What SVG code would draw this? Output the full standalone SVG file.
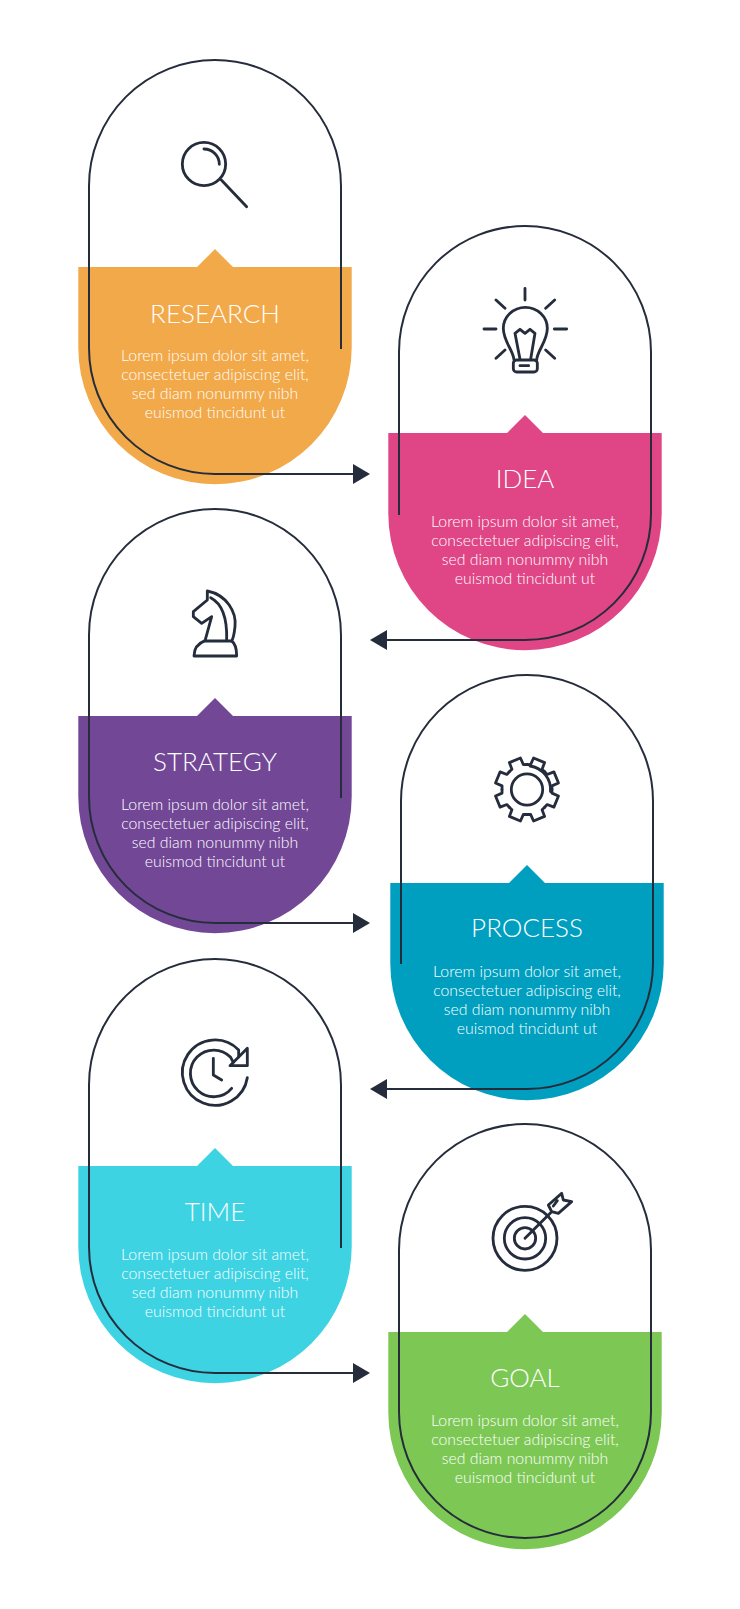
<svg xmlns="http://www.w3.org/2000/svg" width="740" height="1609" viewBox="0 0 740 1609">
<style>
.bg{fill:#fff}
.h{font-family:"Lato","Liberation Sans",sans-serif;font-size:26px;font-weight:300;fill:#fff;text-anchor:middle}
.b{font-family:"Lato","Liberation Sans",sans-serif;font-size:15.8px;font-weight:300;fill:#fff;text-anchor:middle}
.o{fill:none;stroke:#252d3c;stroke-width:2}
.i{fill:none;stroke:#252d3c;stroke-width:8.5;stroke-linecap:round;stroke-linejoin:round}
</style>
<defs>
<marker id="ah" markerUnits="userSpaceOnUse" markerWidth="17" markerHeight="20" refX="0" refY="10" orient="auto"><path d="M0 0L17 10L0 20Z" fill="#252d3c"/></marker>
<path id="shape" d="M-136.7 0H-18L0 -18L18 0H136.7V80.5A136.7 136.7 0 0 1 -136.7 80.5Z"/>
<g id="txt"><text class="b" y="94">Lorem ipsum dolor sit amet,</text><text class="b" y="113">consectetuer adipiscing elit,</text><text class="b" y="132">sed diam nonummy nibh</text><text class="b" y="151">euismod tincidunt ut</text></g>
<path id="tooth" d="M-9.57 -23.1L-6.2 -24.4L-6 -31.6L6 -31.6L6.2 -24.4L9.57 -23.1"/>
</defs>
<rect class="bg" width="740" height="1609"/>
<g id="node-research" transform="translate(215,267)"><use href="#shape" fill="#f2a94a"/><text class="h" y="55.500">RESEARCH</text><use href="#txt"/>
<g class="i" transform="translate(-155,-227) scale(.3333)"><circle cx="432" cy="372" r="65"/><path d="M432 327A46 46 0 0 1 478 373"/><path d="M484 420L560 500"/></g></g>
<g id="node-idea" transform="translate(525,433)"><use href="#shape" fill="#e04585"/><text class="h" y="55">IDEA</text><use href="#txt"/>
<g class="i" transform="translate(-65,-163) scale(.3333)"><path d="M195 55V90M108 90L135 115M284 90L257 115M72 177H108M283 177H320M108 265L135 240M284 265L257 240"/><path d="M162 270C160 240 130 215 130 175A66 63 0 0 1 262 175C262 215 232 240 230 270"/><rect x="160" y="270" width="72" height="36" rx="10"/><path d="M180 287H206M180 268L165 190L180 178L195 190L210 178L225 190L212 268"/></g></g>
<g id="node-strategy" transform="translate(215,716)"><use href="#shape" fill="#724796"/><text class="h" y="55">STRATEGY</text><use href="#txt"/>
<g class="i" transform="translate(-45,-141) scale(.3333)"><path d="M112 48C170 60 200 110 195 155C193 175 190 190 185 198H105L125 125L95 145L70 125V110L112 75Z"/><path d="M122 68C155 85 172 130 170 195"/><path d="M105 197C85 205 72 220 72 243H200C200 220 195 205 185 198"/></g></g>
<g id="node-process" transform="translate(527,883)"><use href="#shape" fill="#009fbf"/><text class="h" y="54">PROCESS</text><use href="#txt"/>
<g class="i" transform="translate(0,-93.500)"><circle r="15.7" stroke-width="2.8"/><path stroke-width="2.8" d="M3 -23.5A24 24 0 0 1 23.5 2" /><g stroke-width="2.8"><use href="#tooth" transform="rotate(22.5)"/><use href="#tooth" transform="rotate(67.5)"/><use href="#tooth" transform="rotate(112.5)"/><use href="#tooth" transform="rotate(157.5)"/><use href="#tooth" transform="rotate(202.5)"/><use href="#tooth" transform="rotate(247.5)"/><use href="#tooth" transform="rotate(292.5)"/><use href="#tooth" transform="rotate(337.5)"/></g></g></g>
<g id="node-time" transform="translate(215,1166)"><use href="#shape" fill="#3dd3e3"/><text class="h" y="55">TIME</text><use href="#txt"/>
<g class="i" transform="translate(-45,-141) scale(.3333)"><path d="M232 158A98 98 0 1 1 206 75L206 96"/><path d="M232 70V122H180Z"/><path d="M185 190A70 70 0 1 1 182 97L190 112"/><path d="M130 100V150L155 165"/></g></g>
<g id="node-goal" transform="translate(525,1332)"><use href="#shape" fill="#7dc855"/><text class="h" y="55">GOAL</text><use href="#txt"/>
<g class="i" transform="translate(-45,-152) scale(.3333)"><circle cx="135" cy="175" r="96"/><circle cx="135" cy="175" r="62"/><circle cx="135" cy="175" r="32"/><path d="M135 175L215 95M205 75L245 40L250 60L275 65L235 100L215 95ZM232 62L220 78"/></g></g>
<g id="connectors">
<path class="o" marker-end="url(#ah)" d="M341 349V186A126 126 0 0 0 89 186V348A126 126 0 0 0 215 474H353"/>
<path class="o" marker-end="url(#ah)" d="M399 515V352A126 126 0 0 1 651 352V514A126 126 0 0 1 525 640H387"/>
<path class="o" marker-end="url(#ah)" d="M341 798V635A126 126 0 0 0 89 635V797A126 126 0 0 0 215 923H353"/>
<path class="o" marker-end="url(#ah)" d="M401 964V801A126 126 0 0 1 653 801V963A126 126 0 0 1 527 1089H387"/>
<path class="o" marker-end="url(#ah)" d="M341 1248V1085A126 126 0 0 0 89 1085V1247A126 126 0 0 0 215 1373H353"/>
<path class="o" d="M399 1250A126 126 0 0 1 651 1250V1412A126 126 0 0 1 399 1412Z"/>
</g>
</svg>
